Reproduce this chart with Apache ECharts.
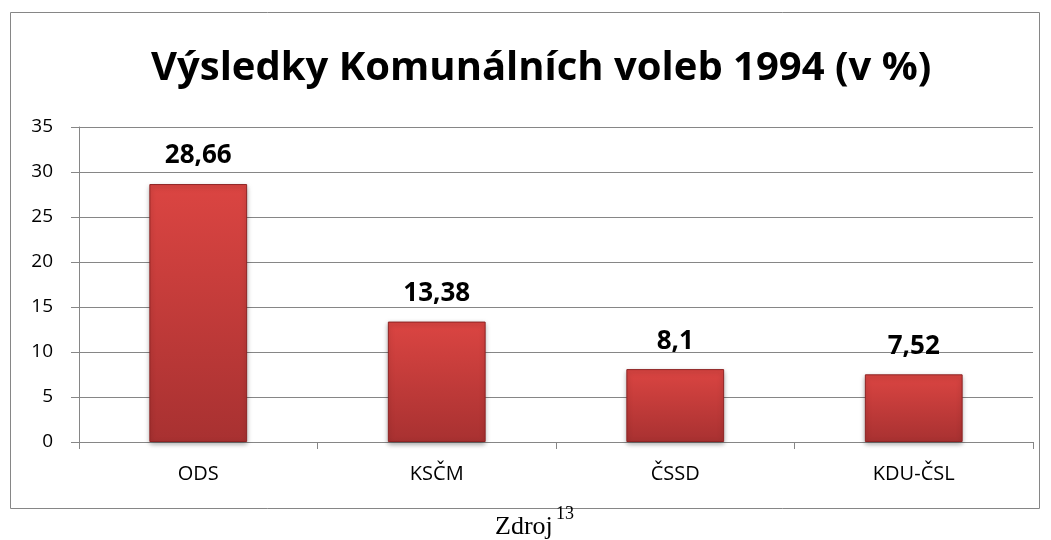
<!DOCTYPE html>
<html>
<head>
<meta charset="utf-8">
<script src="https://cdn.jsdelivr.net/npm/echarts@6/dist/echarts.min.js"></script>
<style>
  html, body { margin: 0; padding: 0; background: #fff; }
  #main-chart { width: 1051px; height: 540px; }
</style>
</head>
<body>
<div id="main-chart"></div>
<script>
const parties = ['ODS', 'KSČM', 'ČSSD', 'KDU-ČSL'];
const results = [28.66, 13.38, 8.1, 7.52];
const yTicks = [0, 5, 10, 15, 20, 25, 30, 35];

const chart = echarts.init(document.getElementById('main-chart'));

const barFill = new echarts.graphic.LinearGradient(0, 0, 0, 1, [
    { offset: 0, color: '#db4542' },
    { offset: 1, color: '#a83131' }
]);

const option = {
    animation: false,
    title: {
        text: 'Výsledky Komunálních voleb 1994 (v %)',
        left: 146,
        top: 44,
        textStyle: { fontFamily: 'Open Sans', fontWeight: 'bold', fontSize: 40, color: '#000' }
    },
    grid: { left: 79, right: 18, top: 127, bottom: 98 },
    xAxis: {
        type: 'category',
        data: parties,
        axisLine: { lineStyle: { color: '#868686', width: 1 } },
        axisTick: { show: true, length: 7, lineStyle: { color: '#868686' } },
        axisLabel: { color: '#000', fontFamily: 'Open Sans', fontSize: 20, margin: 22 }
    },
    yAxis: {
        type: 'value',
        min: yTicks[0],
        max: yTicks[yTicks.length - 1],
        interval: 5,
        axisLine: { show: true, lineStyle: { color: '#868686' } },
        axisTick: { show: true, length: 8, lineStyle: { color: '#868686' } },
        axisLabel: { color: '#000', fontFamily: 'Open Sans', fontSize: 19, margin: 26 },
        splitLine: { lineStyle: { color: '#868686', width: 1 } }
    },
    series: [{
        type: 'bar',
        data: results,
        barWidth: '41%',
        itemStyle: {
            color: barFill,
            borderColor: '#8e2424',
            borderWidth: 1,
            shadowColor: 'rgba(0,0,0,0.35)',
            shadowBlur: 5,
            shadowOffsetY: 2
        },
        label: {
            show: true,
            position: 'top',
            distance: 15,
            color: '#000',
            fontFamily: 'Open Sans',
            fontWeight: 'bold',
            fontSize: 26,
            formatter: p => String(p.value).replace('.', ',')
        }
    }],
    graphic: [
        {
            type: 'rect',
            shape: { x: 10.5, y: 12.5, width: 1029, height: 496 },
            style: { fill: 'none', stroke: '#868686', lineWidth: 1 },
            z: -1
        },
        {
            type: 'text',
            left: 495,
            top: 514,
            style: { text: 'Zdroj', font: '26px "Liberation Serif"', fill: '#000' }
        },
        {
            type: 'text',
            left: 556,
            top: 505,
            style: { text: '13', font: '18px "Liberation Serif"', fill: '#000' }
        }
    ]
};

chart.setOption(option);
window.addEventListener('resize', () => chart.resize());
</script>
</body>
</html>
